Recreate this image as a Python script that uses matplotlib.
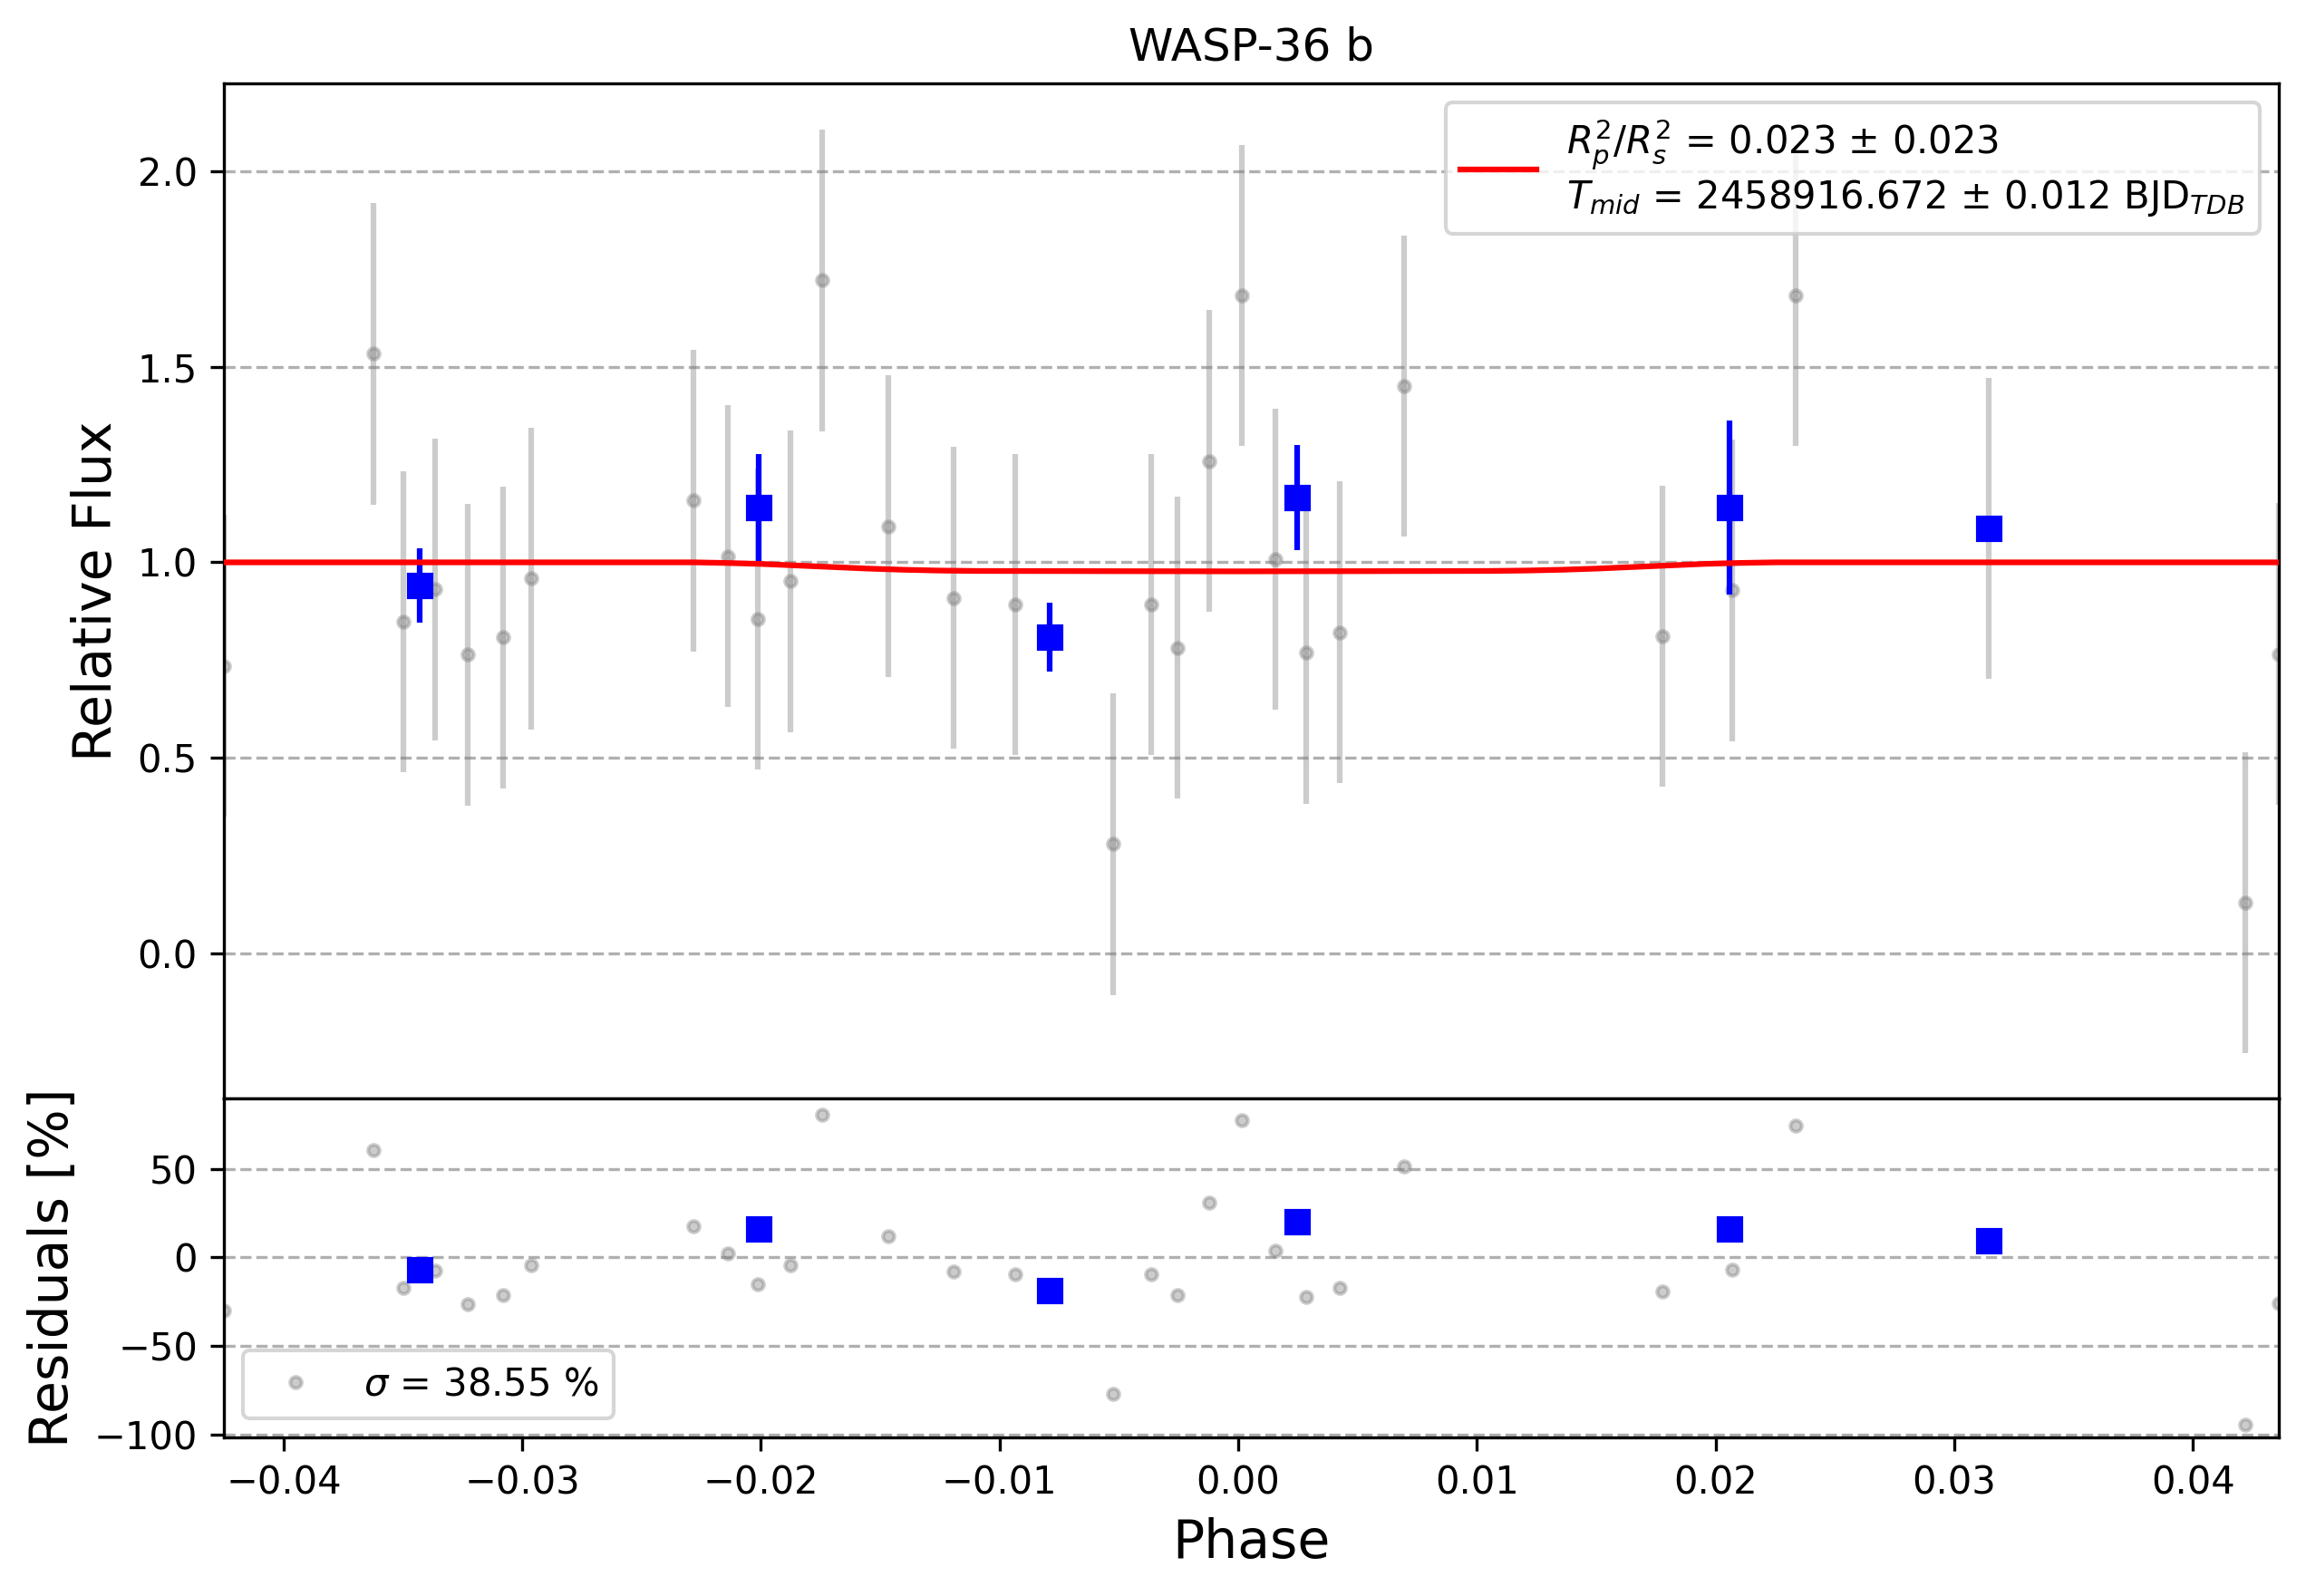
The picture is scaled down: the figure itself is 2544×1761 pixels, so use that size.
import numpy as np
import matplotlib
matplotlib.use('Agg')
import matplotlib.pyplot as plt

# unbinned points (phase, relative flux, error, residual in %)
phase = [-0.0425, -0.03625, -0.03499, -0.03364, -0.03229, -0.03081, -0.02962,
         -0.02283, -0.02138, -0.02013, -0.01878, -0.01742, -0.01466, -0.01192,
         -0.00934, -0.00526, -0.00365, -0.00255, -0.00123, 0.00016, 0.00157,
         0.00286, 0.00424, 0.00694, 0.01778, 0.02070, 0.02334, 0.03145,
         0.04220, 0.0436]
flux = [0.735, 1.534, 0.848, 0.931, 0.764, 0.808, 0.959,
        1.158, 1.016, 0.855, 0.952, 1.722, 1.092, 0.909,
        0.892, 0.279, 0.892, 0.781, 1.259, 1.683, 1.008,
        0.769, 0.821, 1.451, 0.811, 0.929, 1.683, 1.087,
        0.129, 0.765]
flux_err = [0.386, 0.386, 0.386, 0.386, 0.386, 0.386, 0.386,
            0.386, 0.386, 0.386, 0.386, 0.386, 0.386, 0.386,
            0.386, 0.386, 0.386, 0.386, 0.386, 0.386, 0.386,
            0.386, 0.386, 0.386, 0.386, 0.386, 0.386, 0.386,
            0.386, 0.386]
resid = [-30.0, 60.5, -17.0, -7.5, -26.3, -21.0, -4.5,
         17.7, 2.2, -15.3, -4.5, 80.3, 12.0, -7.8,
         -9.3, -77.0, -9.3, -21.0, 30.8, 77.3, 3.9,
         -22.5, -17.0, 51.5, -19.4, -7.0, 74.4, 9.0,
         -94.4, -26.0]

# binned points
bin_phase = [-0.0343, -0.0201, -0.0079, 0.00245, 0.0206, 0.03145]
bin_flux = [0.940, 1.140, 0.809, 1.166, 1.140, 1.087]
bin_err = [0.095, 0.137, 0.088, 0.134, 0.222, 0.0]
bin_resid = [-6.9, 16.1, -18.6, 20.4, 16.1, 9.6]

# transit model
model_phase = [-0.0425, -0.0228, -0.0215, -0.0200, -0.0185, -0.0170, -0.0155,
               -0.0140, -0.0125, -0.0110, 0.0, 0.0105, 0.0120, 0.0135, 0.0150,
               0.0165, 0.0180, 0.0195, 0.0210, 0.0225, 0.0436]
model_flux = [1.0, 1.0, 0.9985, 0.996, 0.992, 0.988, 0.984,
              0.981, 0.979, 0.978, 0.977, 0.978, 0.979, 0.981, 0.984,
              0.988, 0.992, 0.996, 0.9985, 1.0, 1.0]

rp_label = r'$R^{2}_{p}/R^{2}_{s}$ = 0.023 $\pm$ 0.023' + '\n' + \
    r'$T_{mid}$ = 2458916.672 $\pm$ 0.012 BJD$_{TDB}$'
sigma_label = r'$\sigma$ = 38.55 %'

f, (ax_lc, ax_res) = plt.subplots(2, 1, figsize=(2545 / 300, 1761 / 300), dpi=300,
                                  gridspec_kw={'height_ratios': [3, 1]})
plt.subplots_adjust(left=0.0971, right=0.9878, top=0.9478, bottom=0.0994, hspace=0)

ax_lc.set_title('WASP-36 b')
ax_lc.errorbar(phase, flux, yerr=flux_err, ls='none', marker='o', color='gray',
               markersize=3, alpha=0.4, zorder=2)
ax_lc.plot(model_phase, model_flux, 'r', lw=1.5, zorder=1000, label=rp_label)
ax_lc.errorbar(bin_phase, bin_flux, yerr=bin_err, fmt='s', color='blue',
               markersize=6, zorder=10)
ax_lc.set_ylabel('Relative Flux', fontsize=14)
ax_lc.set_xlim(-0.0425, 0.0436)
ax_lc.set_ylim(-0.373, 2.226)
ax_lc.tick_params(axis='x', bottom=False, labelbottom=False)
ax_lc.grid(True, axis='y', ls='--')
ax_lc.legend(loc='upper right')

ax_res.plot(phase, resid, marker='o', color='gray', ls='none', markersize=3,
            alpha=0.4, label=sigma_label)
ax_res.plot(bin_phase, bin_resid, 's', color='blue', markersize=6, zorder=10)
ax_res.set_ylabel('Residuals [%]', fontsize=14)
ax_res.set_xlabel('Phase', fontsize=14)
ax_res.set_xlim(-0.0425, 0.0436)
ax_res.set_ylim(-101.5, 89.5)
ax_res.grid(True, axis='y', ls='--')
ax_res.legend(loc='lower left')

plt.savefig('out.png')
